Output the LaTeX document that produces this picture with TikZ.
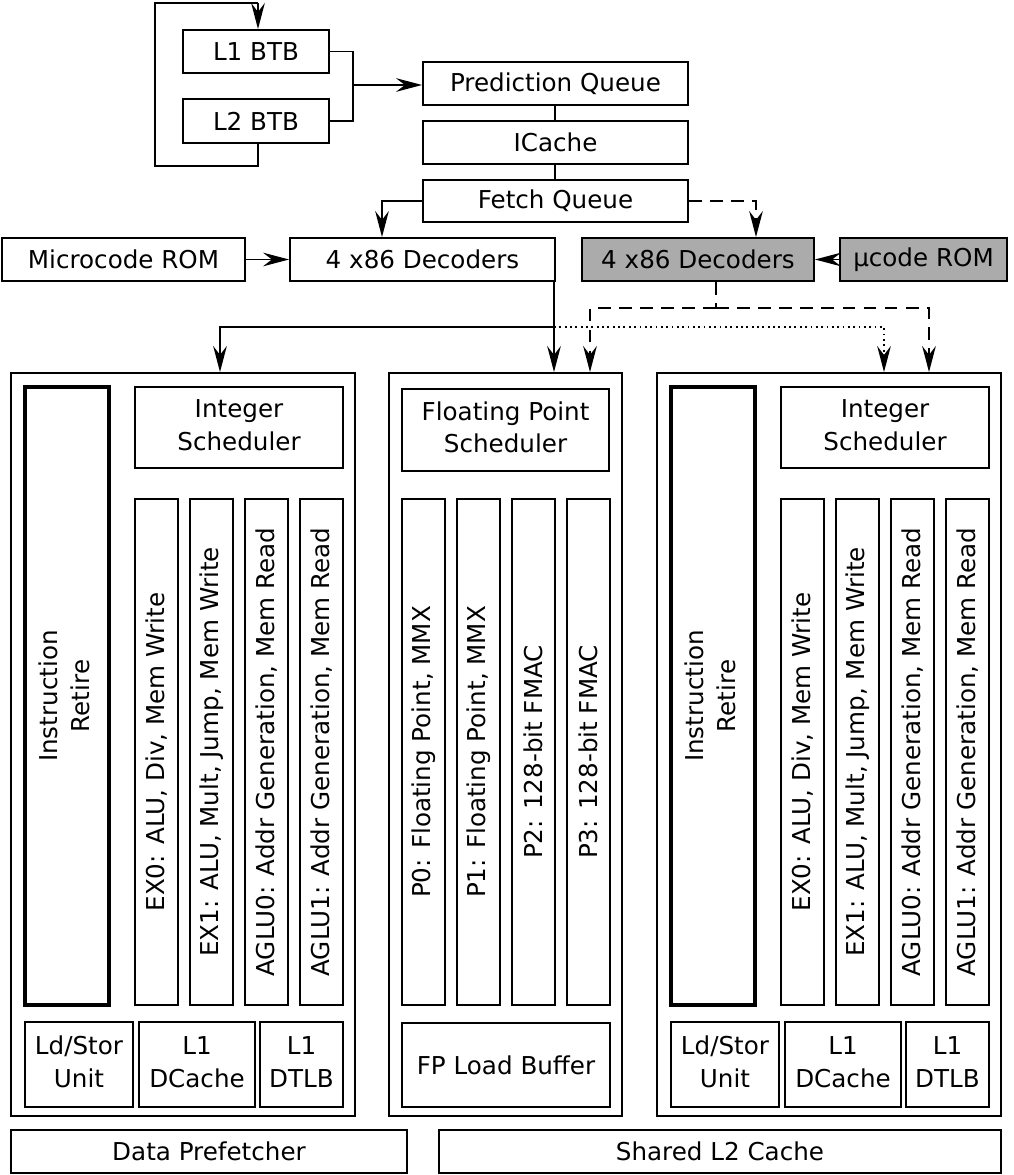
\documentclass[tikz,border=0pt]{standalone}
\usepackage{fontspec}
\setmainfont{DejaVu Sans}
\usetikzlibrary{arrows.meta,fit,positioning}

\begin{document}
\begin{tikzpicture}[
    x = 0.025cm, y = -0.025cm,
    > = {Stealth[length=6.5mm,width=3.4mm,inset=2.2mm]},
    line width = 1.3pt,
    font = \fontsize{17.5}{23}\selectfont,
    blk/.style = {draw, inner sep=0pt, align=center},
    grey/.style = {blk, fill=black!33},
    col/.style = {blk, minimum width=43*0.025cm, minimum height=506*0.025cm},
    dsh/.style = {dash pattern=on 9pt off 6pt},
    dot/.style = {dash pattern=on 1.3pt off 2.5pt}
    ]
    \useasboundingbox (0,0) rectangle (1013,1175);

    % front end
    \node[blk, fit={(183,30)(329,73)}, label=center:L1 BTB] (l1btb) {};
    \node[blk, fit={(183,99)(329,143)}, label=center:L2 BTB] (l2btb) {};
    \node[blk, fit={(423,62)(688,105)}, label=center:Prediction Queue] (predq) {};
    \node[blk, fit={(423,121)(688,164)}, label=center:ICache] (icache) {};
    \node[blk, fit={(423,180)(688,222)}, label=center:Fetch Queue] (fetchq) {};
    \node[blk, fit={(2,238)(245,281)}, label=center:Microcode ROM] (mrom) {};
    \node[blk, fit={(290,238)(555,281)}, label=center:4 x86 Decoders] (dec) {};
    \node[grey, fit={(582,238)(814,281)}, label=center:4 x86 Decoders] (gdec) {};
    \node[grey, fit={(840,238)(1007,281)}, label=center:µcode ROM] (urom) {};

    \coordinate (loop) at (258,3);
    \coordinate (join) at (353,85);
    \draw (l2btb.south -| loop) |- (155,166) |- (loop) edge[->] (l1btb.north -| loop);
    \draw (l1btb.east) -| (join) |- (l2btb.east);
    \draw[->] (join) -- (predq.west |- join);
    \draw (predq.south -| 555,0) -- (icache.north -| 555,0);
    \draw (icache.south -| 555,0) -- (fetchq.north -| 555,0);
    \draw[->] (fetchq.west) -| (dec.north -| 382,0);
    \draw[->, dsh] (fetchq.east) -| (gdec.north -| 756,0);
    \draw[->] (mrom) -- (dec);
    \draw[->] (urom) -- (gdec);

    % execution clusters
    \foreach \dx/\i in {0/a, 646/b} {
      \begin{scope}[xshift=\dx*0.025cm]
        \node[blk, fit={(11,373)(355,1116)}] (clu\i) {};
        \node[blk, line width=2.2pt, fit={(25,387)(109,1005)},
              label={center:\rotatebox{90}{\begin{tabular}{c}Instruction\\Retire\end{tabular}}}] (ret\i) {};
        \node[blk, fit={(135,387)(343,468)},
              label={center:\begin{tabular}{c}Integer\\Scheduler\end{tabular}}] (isch\i) {};
        \node[col] (ex0\i) at (156.5,752) {\rotatebox{90}{EX0: ALU, Div, Mem Write}};
        \node[col] (ex1\i) at (211.5,752) {\rotatebox{90}{EX1: ALU, Mult, Jump, Mem Write}};
        \node[col] (ag0\i) at (266.5,752) {\rotatebox{90}{AGLU0: Addr Generation, Mem Read}};
        \node[col] (ag1\i) at (321.5,752) {\rotatebox{90}{AGLU1: Addr Generation, Mem Read}};
        \node[blk, fit={(25,1022)(133,1107)},
              label={center:\begin{tabular}{c}Ld/Stor\\Unit\end{tabular}}] (lsu\i) {};
        \node[blk, fit={(139,1022)(255,1107)},
              label={center:\begin{tabular}{c}L1\\DCache\end{tabular}}] (dc\i) {};
        \node[blk, fit={(260,1022)(343,1107)},
              label={center:\begin{tabular}{c}L1\\DTLB\end{tabular}}] (tlb\i) {};
      \end{scope}
    }

    % floating point cluster
    \node[blk, fit={(389,373)(622,1116)}] (fpu) {};
    \node[blk, fit={(402,389)(609,471)},
          label={center:\begin{tabular}{c}Floating Point\\Scheduler\end{tabular}}] (fsch) {};
    \node[col] (p0) at (423.5,752) {\rotatebox{90}{P0: Floating Point, MMX}};
    \node[col] (p1) at (478.5,752) {\rotatebox{90}{P1: Floating Point, MMX}};
    \node[col] (p2) at (533.5,752) {\rotatebox{90}{P2: 128-bit FMAC}};
    \node[col] (p3) at (588.5,752) {\rotatebox{90}{P3: 128-bit FMAC}};
    \node[blk, fit={(402,1023)(610,1107)}, label=center:FP Load Buffer] (fplb) {};

    \node[blk, fit={(11,1130)(407,1173)}, label=center:Data Prefetcher] (pref) {};
    \node[blk, fit={(439,1130)(1001,1173)}, label=center:Shared L2 Cache] (l2c) {};

    % dispatch
    \coordinate (sp) at (554,327);
    \coordinate (gs) at (716,308);
    \draw (dec.south -| sp) -- (sp);
    \draw[->] (sp) -- (fpu.north -| sp);
    \draw[->] (sp) -| (clua.north -| 220,0);
    \draw[->, dot] (sp) -| (club.north -| 884,0);
    \draw[dsh] (gdec.south -| gs) -- (gs);
    \draw[->, dsh] (gs) -| (fpu.north -| 590,0);
    \draw[->, dsh] (gs) -| (club.north -| 929,0);
\end{tikzpicture}
\end{document}
